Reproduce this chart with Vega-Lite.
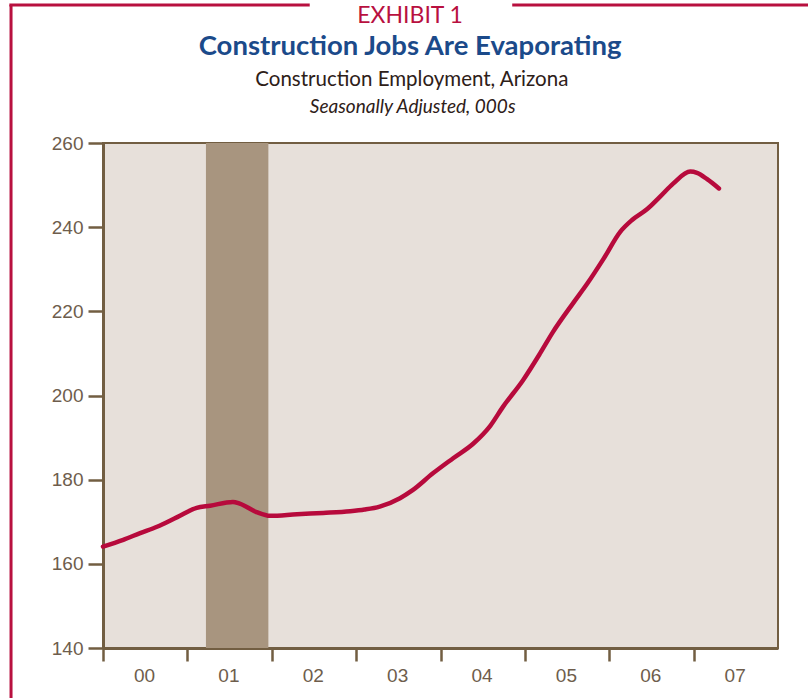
{
  "$schema": "https://vega.github.io/schema/vega-lite/v6.json",
  "width": 675,
  "height": 505,
  "autosize": {"type": "none"},
  "padding": {"left": 103, "top": 143, "right": 30, "bottom": 50},
  "background": "white",
  "config": {
    "view": {"fill": "#e7e0da", "stroke": "#725e42", "strokeWidth": 2},
    "font": "Liberation Sans, sans-serif"
  },
  "datasets": {
    "employment": [
      {"year": 2000.00, "value": 164.1},
      {"year": 2000.24, "value": 165.7},
      {"year": 2000.44, "value": 167.3},
      {"year": 2000.64, "value": 168.8},
      {"year": 2000.88, "value": 171.1},
      {"year": 2001.11, "value": 173.3},
      {"year": 2001.27, "value": 173.8},
      {"year": 2001.54, "value": 174.7},
      {"year": 2001.62, "value": 174.3},
      {"year": 2001.82, "value": 172.3},
      {"year": 2001.98, "value": 171.4},
      {"year": 2002.30, "value": 171.8},
      {"year": 2002.61, "value": 172.1},
      {"year": 2002.93, "value": 172.5},
      {"year": 2003.10, "value": 172.9},
      {"year": 2003.28, "value": 173.6},
      {"year": 2003.52, "value": 175.6},
      {"year": 2003.67, "value": 177.5},
      {"year": 2003.91, "value": 181.5},
      {"year": 2004.15, "value": 185.1},
      {"year": 2004.39, "value": 188.6},
      {"year": 2004.59, "value": 192.8},
      {"year": 2004.74, "value": 197.3},
      {"year": 2004.98, "value": 203.7},
      {"year": 2005.18, "value": 210.0},
      {"year": 2005.33, "value": 215.0},
      {"year": 2005.57, "value": 221.9},
      {"year": 2005.74, "value": 226.6},
      {"year": 2005.93, "value": 232.4},
      {"year": 2006.13, "value": 238.9},
      {"year": 2006.27, "value": 241.7},
      {"year": 2006.45, "value": 244.3},
      {"year": 2006.60, "value": 247.2},
      {"year": 2006.76, "value": 250.4},
      {"year": 2006.96, "value": 253.2},
      {"year": 2007.04, "value": 252.9},
      {"year": 2007.16, "value": 251.4},
      {"year": 2007.30, "value": 249.2}
    ],
    "recession": [{"start": 2001.22, "end": 2001.96}]
  },
  "layer": [
    {
      "data": {"name": "recession"},
      "mark": {"type": "rect", "color": "#a8957f", "opacity": 1},
      "encoding": {
        "x": {
          "field": "start", "type": "quantitative", "title": null,
          "scale": {"domain": [2000, 2008], "nice": false, "zero": false},
          "axis": {
            "values": [2000, 2001, 2002, 2003, 2004, 2005, 2006, 2007],
            "labelExpr": "'0' + (datum.value - 2000)",
            "labelOffset": 41,
            "tickSize": 13, "tickWidth": 2.5, "tickColor": "#725e42",
            "domainColor": "#725e42", "domainWidth": 3,
            "labelFontSize": 19, "labelColor": "#6e5d4c", "labelPadding": 5,
            "grid": false, "labelFlush": false, "labelOverlap": false
          }
        },
        "x2": {"field": "end"}
      }
    },
    {
      "data": {"name": "employment"},
      "mark": {"type": "line", "color": "#b70a3c", "strokeWidth": 4.5, "interpolate": "monotone", "strokeCap": "round"},
      "encoding": {
        "x": {"field": "year", "type": "quantitative", "title": null},
        "y": {
          "field": "value", "type": "quantitative", "title": null,
          "scale": {"domain": [140, 260], "nice": false, "zero": false},
          "axis": {
            "values": [140, 160, 180, 200, 220, 240, 260],
            "tickSize": 15, "tickWidth": 2.5, "tickColor": "#725e42",
            "domainColor": "#725e42", "domainWidth": 3,
            "labelFontSize": 19, "labelColor": "#6e5d4c", "labelPadding": 5,
            "grid": false, "labelFlush": false, "labelOverlap": false
          }
        }
      }
    },
    {
      "data": {"values": [{}]},
      "mark": {"type": "rule", "color": "#b8103f", "strokeWidth": 3},
      "encoding": {"x": {"datum": 1998.91, "title": null}, "y": {"datum": 292.8, "title": null}, "y2": {"datum": 120}}
    },
    {
      "data": {"values": [{}]},
      "mark": {"type": "rule", "color": "#b8103f", "strokeWidth": 3},
      "encoding": {"x": {"datum": 1998.89, "title": null}, "x2": {"datum": 2002.45}, "y": {"datum": 292.8, "title": null}}
    },
    {
      "data": {"values": [{}]},
      "mark": {"type": "rule", "color": "#b8103f", "strokeWidth": 3},
      "encoding": {"x": {"datum": 2004.85, "title": null}, "x2": {"datum": 2009}, "y": {"datum": 292.8, "title": null}}
    },
    {
      "data": {"values": [{}]},
      "mark": {"type": "text", "text": "EXHIBIT 1", "font": "Lato, sans-serif", "fontSize": 23, "color": "#b8103f", "align": "center", "baseline": "alphabetic"},
      "encoding": {"x": {"datum": 2003.64, "title": null}, "y": {"datum": 288.5, "title": null}}
    },
    {
      "data": {"values": [{}]},
      "mark": {"type": "text", "text": "Construction Jobs Are Evaporating", "font": "Lato, sans-serif", "fontSize": 27.5, "fontWeight": "bold", "color": "#1b4a8a", "align": "center", "baseline": "alphabetic"},
      "encoding": {"x": {"datum": 2003.64, "title": null}, "y": {"datum": 280.9, "title": null}}
    },
    {
      "data": {"values": [{}]},
      "mark": {"type": "text", "text": "Construction Employment, Arizona", "font": "Lato, sans-serif", "fontSize": 20.5, "color": "#2e2018", "align": "center", "baseline": "alphabetic"},
      "encoding": {"x": {"datum": 2003.66, "title": null}, "y": {"datum": 273.5, "title": null}}
    },
    {
      "data": {"values": [{}]},
      "mark": {"type": "text", "text": "Seasonally Adjusted, 000s", "font": "Lato, sans-serif", "fontSize": 19, "fontStyle": "italic", "color": "#2e2018", "align": "center", "baseline": "alphabetic"},
      "encoding": {"x": {"datum": 2003.67, "title": null}, "y": {"datum": 267.1, "title": null}}
    }
  ]
}
